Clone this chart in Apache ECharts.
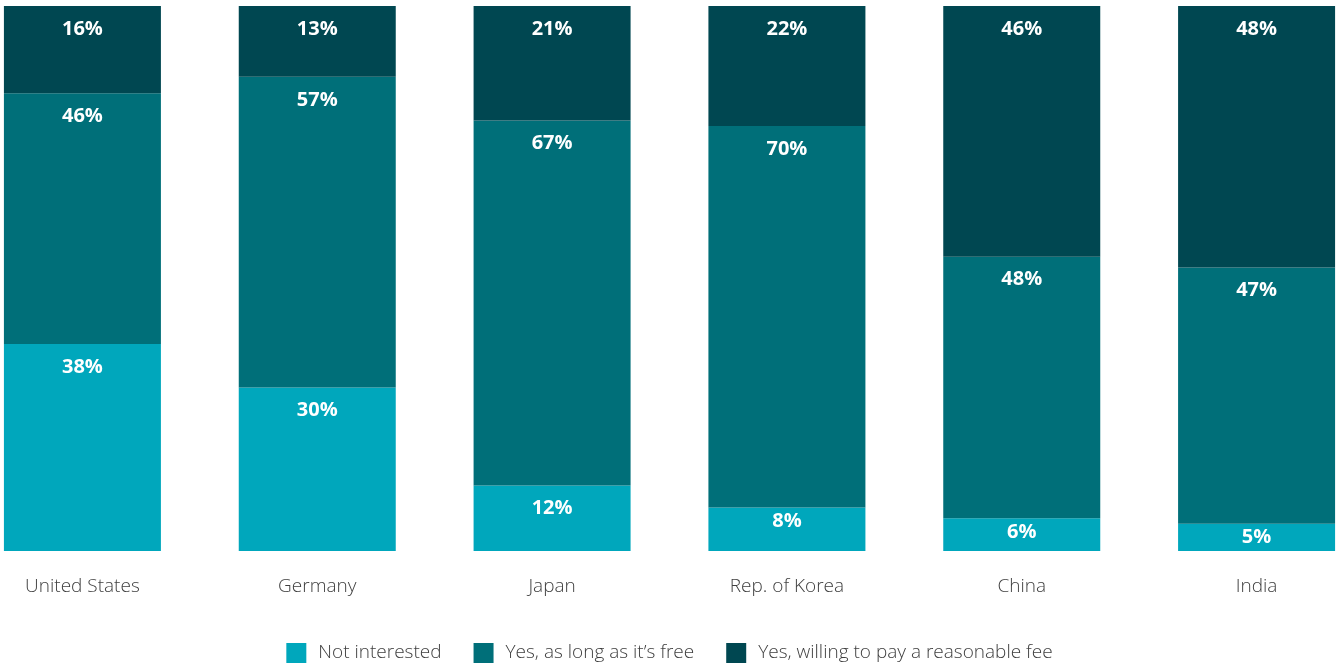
<!DOCTYPE html>
<html>
<head>
<meta charset="utf-8">
<script src="https://cdn.jsdelivr.net/npm/echarts@6/dist/echarts.min.js"></script>
<style>
html,body{margin:0;padding:0;background:#fff;overflow:hidden;width:1339px;height:665px;}
#c{width:1409px;height:665px;margin-left:-35px;}
</style>
</head>
<body>
<div id="c"></div>
<script>
var categories = ["United States", "Germany", "Japan", "Rep. of Korea", "China", "India"];
var notInterested = [38, 30, 12, 8, 6, 5];
var yesFree = [46, 57, 67, 70, 48, 47];
var yesPay = [16, 13, 21, 22, 46, 48];
var seriesNames = ["Not interested", "Yes, as long as it\u2019s free", "Yes, willing to pay a reasonable fee"];
var colors = ["#00A7BC", "#006F79", "#004751"];

var chart = echarts.init(document.getElementById('c'));
var font = "'Open Sans', sans-serif";
function mk(name, data, color) {
  return {
    name: name,
    type: 'bar',
    stack: 'total',
    data: data.map(function (v) {
      return { value: v, label: { distance: v < 10 ? 4 : 13 } };
    }),
    barWidth: 157,
    itemStyle: { color: color },
    label: {
      show: true,
      position: 'insideTop',
      formatter: '{c}%',
      color: '#fff',
      fontFamily: font,
      fontWeight: 'bold',
      fontSize: 20
    },
    emphasis: { disabled: true }
  };
}
chart.setOption({
  animation: false,
  color: colors,
  grid: { left: 0, right: 0, top: 6, bottom: 114, containLabel: false },
  legend: {
    left: 'center',
    top: 638,
    itemWidth: 20,
    itemHeight: 20,
    itemGap: 32,
    icon: 'rect',
    textStyle: { fontFamily: font, fontSize: 19, fontWeight: 300, color: '#404040', padding: [0, 0, 0, 7] },
    data: seriesNames
  },
  xAxis: {
    type: 'category',
    data: categories,
    axisLine: { show: false },
    axisTick: { show: false },
    axisLabel: { fontFamily: font, fontSize: 19, fontWeight: 300, color: '#404040', margin: 26 }
  },
  yAxis: { type: 'value', min: 0, max: 100, show: false },
  series: [
    mk(seriesNames[0], notInterested, colors[0]),
    mk(seriesNames[1], yesFree, colors[1]),
    mk(seriesNames[2], yesPay, colors[2])
  ]
});
</script>
</body>
</html>
